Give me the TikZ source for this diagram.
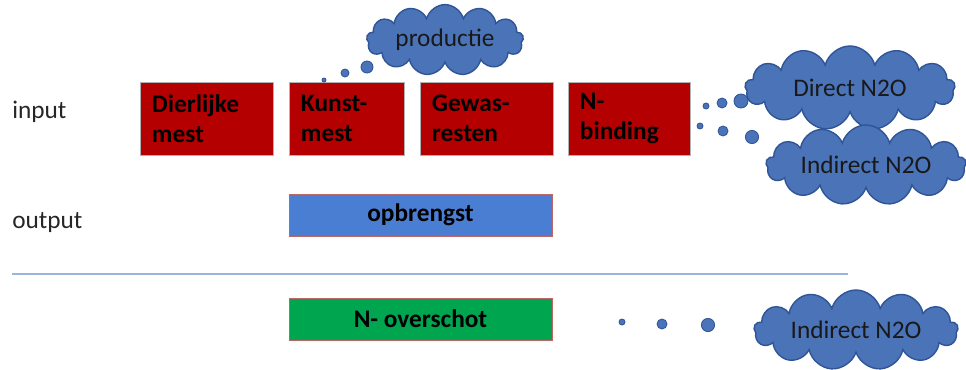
\documentclass[tikz,border=0pt]{standalone}
\usepackage{fontspec}
\setmainfont{Carlito}
\usetikzlibrary{shapes.symbols,positioning}
\definecolor{MestRed}{HTML}{B40000}
\definecolor{YieldBlue}{HTML}{4A7ED2}
\definecolor{SurplusGreen}{HTML}{00A54F}
\definecolor{CloudBlue}{HTML}{4A73B8}
\definecolor{CloudEdge}{HTML}{2F5597}
\definecolor{RuleBlue}{HTML}{9AB5DA}

\tikzset{
  inbox/.style={fill=MestRed, draw=black!30, line width=0.6pt, minimum height=1.825cm,
    inner xsep=0.3cm, align=left, font=\fontsize{18}{21}\selectfont\bfseries},
  outbox/.style={draw=black!20!MestRed!60, line width=0.6pt, minimum width=6.575cm,
    minimum height=1.05cm, font=\fontsize{18}{21}\selectfont\bfseries},
  wolk/.style={cloud, cloud puffs=13, cloud ignores aspect, fill=CloudBlue, draw=CloudEdge,
    line width=1pt, font=\fontsize{18}{21}\selectfont, text=black!90},
  bubble/.style={circle, fill=CloudBlue, draw=CloudEdge, line width=0.6pt, inner sep=0pt},
  rowlabel/.style={anchor=west, inner sep=0pt, font=\fontsize{18}{21}\selectfont, text=black!85}
}

\begin{document}
\begin{tikzpicture}[x=0.025cm, y=-0.025cm]
  \useasboundingbox (0,0) rectangle (966,369);

  % rijen
  \node[rowlabel] (input) at (12,112) {input};
  \node[rowlabel] (output) at (12,223) {output};

  % input
  \node[inbox, text width=2.725cm] (dier) at (206.5,118.5) {Dierlijke\\mest};
  \node[inbox, text width=2.275cm] (kunst) at (346.5,118.5) {Kunst-\\mest};
  \node[inbox, text width=2.725cm] (gewas) at (486.5,118.5) {Gewas-\\resten};
  \node[inbox, text width=2.45cm] (nbind) at (629,118.5) {N-\\binding};

  % output
  \node[outbox, fill=YieldBlue] (opbr) at (420.5,215) {opbrengst};
  \draw[RuleBlue, line width=1.2pt] (12,274) -- (848,274);
  \node[outbox, fill=SurplusGreen] (overschot) at (420.5,319) {N- overschot};

  % wolken
  \node[wolk, minimum width=3.75cm, minimum height=1.45cm] (prod) at (445,40) {productie};
  \node[wolk, minimum width=5.25cm, minimum height=2.1cm] (direct) at (850,88) {Direct N2O};
  \node[wolk, minimum width=5.0cm, minimum height=2.0cm] (indirect) at (866,165) {Indirect N2O};
  \node[wolk, minimum width=5.1cm, minimum height=2.0cm] (indirectb) at (856,330) {Indirect N2O};

  % bellen
  \node[bubble, minimum size=0.1cm] (p1) at (324,80) {};
  \node[bubble, minimum size=0.2cm] (p2) at (345,73) {};
  \node[bubble, minimum size=0.3cm] (p3) at (367,67) {};
  \node[bubble, minimum size=0.15cm] (d1) at (706,106) {};
  \node[bubble, minimum size=0.25cm] (d2) at (722,103) {};
  \node[bubble, minimum size=0.35cm] (d3) at (741,101) {};
  \node[bubble, minimum size=0.15cm] (i1) at (700,126) {};
  \node[bubble, minimum size=0.25cm] (i2) at (723,131) {};
  \node[bubble, minimum size=0.33cm] (i3) at (752,137) {};
  \node[bubble, minimum size=0.15cm] (o1) at (622,322) {};
  \node[bubble, minimum size=0.25cm] (o2) at (662,324) {};
  \node[bubble, minimum size=0.33cm] (o3) at (708,325) {};
\end{tikzpicture}
\end{document}
